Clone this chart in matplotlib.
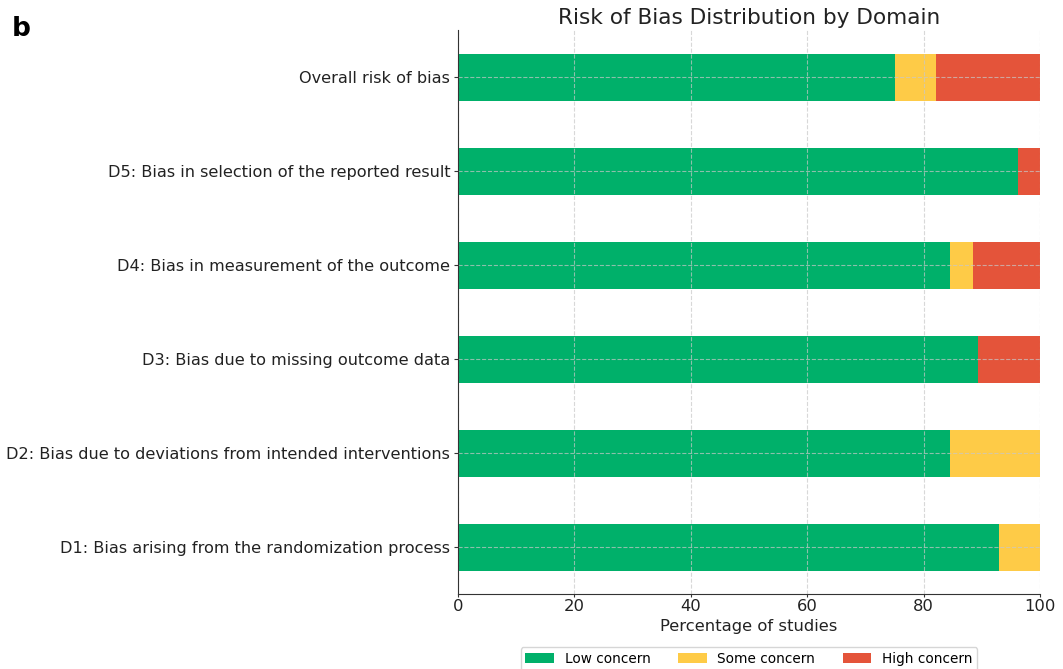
import numpy as np
import matplotlib
matplotlib.use("Agg")
import matplotlib.pyplot as plt

# ------------------------------------------------------------
# Data (percentage of studies per domain)
# ------------------------------------------------------------
domains = [
    "D1: Bias arising from the randomization process",
    "D2: Bias due to deviations from intended interventions",
    "D3: Bias due to missing outcome data",
    "D4: Bias in measurement of the outcome",
    "D5: Bias in selection of the reported result",
    "Overall risk of bias",
]
low_concern = [92.9, 84.6, 89.3, 84.6, 96.2, 75.0]
some_concern = [7.1, 15.4, 0.0, 3.9, 0.0, 7.1]
high_concern = [0.0, 0.0, 10.7, 11.5, 3.8, 17.9]

COLORS = ["#00b06a", "#fecb47", "#e4543a"]
LABELS = ["Low concern", "Some concern", "High concern"]

plt.rcParams["font.family"] = ["DejaVu Sans"]

W, H = 1063, 669
fig = plt.figure(figsize=(W / 100, H / 100), dpi=100)
ax = fig.add_axes([458 / W, 1 - 594 / H, (1040 - 458) / W, (594 - 30) / H])

y = np.arange(len(domains))
low = np.array(low_concern)
some = np.array(some_concern)
high = np.array(high_concern)

ax.barh(y, low, height=0.5, color=COLORS[0], label=LABELS[0])
ax.barh(y, some, left=low, height=0.5, color=COLORS[1], label=LABELS[1])
ax.barh(y, high, left=low + some, height=0.5, color=COLORS[2], label=LABELS[2])

ax.set_xlim(0, 100)
ax.set_ylim(-0.5, 5.5)
ax.set_yticks(y)
ax.set_yticklabels(domains, fontsize=11.6, color="#222222")
ax.set_xticks([0, 20, 40, 60, 80, 100])
ax.tick_params(axis="x", labelsize=11.8, colors="#222222", length=2.5, pad=1.2)
ax.tick_params(axis="y", length=3, pad=2.5)
ax.tick_params(axis="both", color="#333333")

ax.grid(True, linestyle="--", color="#c8c8c8", alpha=0.7, linewidth=0.8)
ax.set_axisbelow(False)

for side in ["top", "right"]:
    ax.spines[side].set_visible(False)
for side in ["left", "bottom"]:
    ax.spines[side].set_color("#333333")
    ax.spines[side].set_zorder(4)

ax.set_xlabel("Percentage of studies", fontsize=11.8, color="#222222", labelpad=3.5)
ax.set_title("Risk of Bias Distribution by Domain", fontsize=15.6, color="#222222", pad=4)

ax.legend(
    loc="upper center",
    bbox_to_anchor=(749 / W, 1 - 647 / H),
    bbox_transform=fig.transFigure,
    borderaxespad=0,
    ncol=3,
    fontsize=9.8,
    frameon=True,
    borderpad=0.35,
    handlelength=2.1,
    handleheight=0.66,
    columnspacing=2.0,
)

fig.text(12 / W, 1 - 36 / H, "b", fontsize=19, fontweight="bold")

fig.savefig("out.png", dpi=100)
plt.close(fig)
